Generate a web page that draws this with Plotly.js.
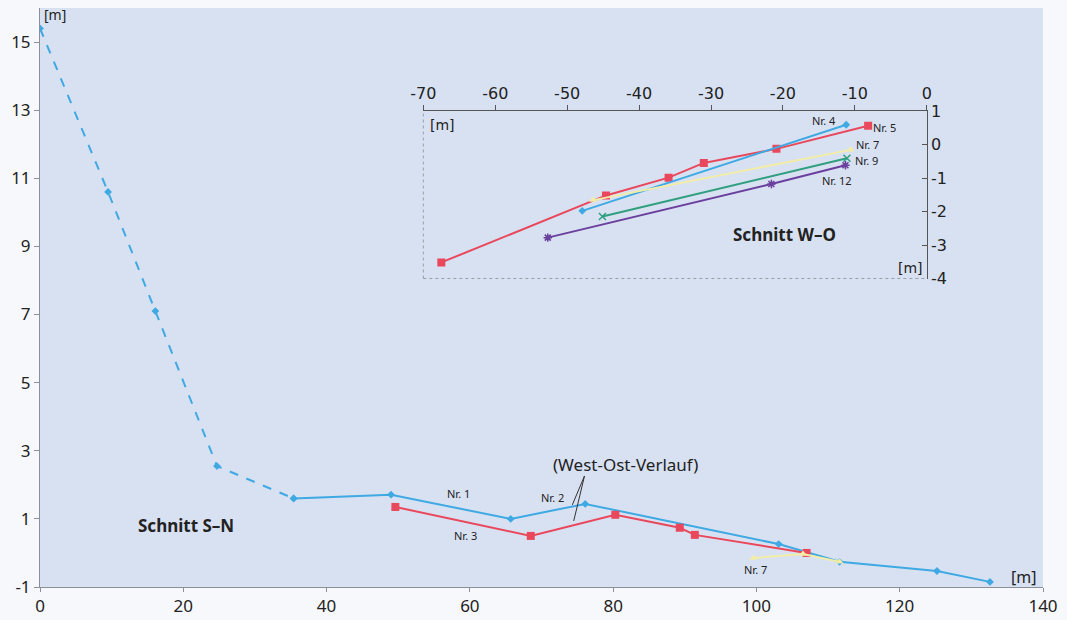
<!DOCTYPE html>
<html>
<head>
<meta charset="utf-8">
<script src="https://cdn.plot.ly/plotly-3.0.1.min.js"></script>
<style>
html,body{margin:0;padding:0;background:#f7f8fb;}
#chart{width:1067px;height:620px;}
</style>
</head>
<body>
<div id="chart"></div>
<script>
// ---- Main section (Schnitt S–N) ----
const snDashX = [0, 9.5, 16.1, 24.7, 35.4];
const snDashY = [15.4, 10.6, 7.1, 2.55, 1.6];
const nr1X = [35.4, 49.0, 65.7, 76.1, 103.1, 111.6, 125.2, 132.6];
const nr1Y = [1.6, 1.71, 1.0, 1.44, 0.26, -0.26, -0.53, -0.85];
const nr3X = [49.6, 68.5, 80.3, 89.3, 91.4, 107.0];
const nr3Y = [1.35, 0.5, 1.12, 0.74, 0.53, 0.0];
const nr7X = [99.6, 106.5, 111.6];
const nr7Y = [-0.15, -0.03, -0.26];
const mainXTicks = [0, 20, 40, 60, 80, 100, 120, 140];
const mainYTicks = [-1, 1, 3, 5, 7, 9, 11, 13, 15];

// ---- Inset (Schnitt W–O) ----
const wo4X = [-47.9, -11.2];
const wo4Y = [-1.98, 0.59];
const wo5X = [-67.5, -44.6, -35.9, -31.0, -20.9, -8.15];
const wo5Y = [-3.52, -1.52, -0.99, -0.55, -0.13, 0.56];
const wo7X = [-46.4, -10.6];
const wo7Y = [-1.66, -0.16];
const wo9X = [-45.1, -11.1];
const wo9Y = [-2.15, -0.41];
const wo12X = [-52.7, -21.6, -11.3];
const wo12Y = [-2.78, -1.18, -0.62];
const insetXTicks = [-70, -60, -50, -40, -30, -20, -10, 0];
const insetYTicks = [-4, -3, -2, -1, 0, 1];

const BLUE = '#3ea9e2', RED = '#e9485c', YEL = '#f2eda6', GRN = '#2f9f7f', PUR = '#6b3f9e';

const traces = [
  {x: snDashX, y: snDashY, mode: 'lines+markers', line: {color: BLUE, width: 2, dash: 'dash'},
   marker: {symbol: 'diamond', size: 6, color: BLUE}, xaxis: 'x', yaxis: 'y'},
  {x: nr1X, y: nr1Y, mode: 'lines+markers', line: {color: BLUE, width: 2},
   marker: {symbol: 'diamond', size: 6, color: BLUE}, xaxis: 'x', yaxis: 'y'},
  {x: nr3X, y: nr3Y, mode: 'lines+markers', line: {color: RED, width: 2},
   marker: {symbol: 'square', size: 8, color: RED}, xaxis: 'x', yaxis: 'y'},
  {x: nr7X, y: nr7Y, mode: 'lines+markers', line: {color: YEL, width: 2},
   marker: {symbol: 'triangle-up', size: 7, color: YEL}, xaxis: 'x', yaxis: 'y'},

  {x: wo5X, y: wo5Y, mode: 'lines+markers', line: {color: RED, width: 2},
   marker: {symbol: 'square', size: 8, color: RED}, xaxis: 'x2', yaxis: 'y2'},
  {x: wo4X, y: wo4Y, mode: 'lines+markers', line: {color: BLUE, width: 2},
   marker: {symbol: 'diamond', size: 6, color: BLUE}, xaxis: 'x2', yaxis: 'y2'},
  {x: wo7X, y: wo7Y, mode: 'lines+markers', line: {color: YEL, width: 2},
   marker: {symbol: 'triangle-up', size: 7, color: YEL}, xaxis: 'x2', yaxis: 'y2'},
  {x: wo9X, y: wo9Y, mode: 'lines+markers', line: {color: GRN, width: 2},
   marker: {symbol: 'x-thin-open', size: 7, color: GRN, line: {color: GRN, width: 1.5}}, xaxis: 'x2', yaxis: 'y2'},
  {x: wo12X, y: wo12Y, mode: 'lines+markers', line: {color: PUR, width: 2},
   marker: {symbol: 'asterisk-open', size: 7, color: PUR, line: {color: PUR, width: 1.5}}, xaxis: 'x2', yaxis: 'y2'}
];

const tickFontMain = {family: 'Noto Sans, sans-serif', size: 17, color: '#222'};
const tickFontInset = {family: 'DejaVu Sans, sans-serif', size: 16, color: '#222'};
const lab = {family: 'Noto Sans, sans-serif', size: 11, color: '#222'};
const boldLab = {family: 'Noto Sans, sans-serif', size: 17, color: '#222'};

const ann = [];
function A(text, x, y, xr, yr, font, extra) {
  ann.push(Object.assign({text: text, x: x, y: y, xref: xr, yref: yr, showarrow: false, font: font}, extra || {}));
}
A('Nr. 1', 58.4, 1.76, 'x', 'y', lab);
A('Nr. 2', 71.5, 1.62, 'x', 'y', lab);
A('Nr. 3', 59.4, 0.5, 'x', 'y', lab);
A('Nr. 7', 99.9, -0.5, 'x', 'y', lab);
A('(West-Ost-Verlauf)', 81.7, 2.6, 'x', 'y', {family: 'Noto Sans, sans-serif', size: 17, color: '#222'});
A('<b>Schnitt S–N</b>', 20.4, 0.82, 'x', 'y', boldLab);
A('[m]', 0.3, 15.8, 'x', 'y', {family: 'Noto Sans, sans-serif', size: 14, color: '#222'}, {xanchor: 'left'});
A('[m]', 137.3, -0.7, 'x', 'y', {family: 'Noto Sans, sans-serif', size: 16, color: '#222'});

A('Nr. 4', -14.3, 0.72, 'x2', 'y2', lab);
A('Nr. 5', -5.9, 0.50, 'x2', 'y2', lab);
A('Nr. 7', -8.3, 0.0, 'x2', 'y2', lab);
A('Nr. 9', -8.4, -0.48, 'x2', 'y2', lab);
A('Nr. 12', -12.5, -1.06, 'x2', 'y2', lab);
A('<b>Schnitt W–O</b>', -19.8, -2.70, 'x2', 'y2', boldLab);
A('[m]', -69.3, 0.58, 'x2', 'y2', {family: 'DejaVu Sans, sans-serif', size: 14, color: '#222'}, {xanchor: 'left'});
A('[m]', -2.3, -3.69, 'x2', 'y2', {family: 'DejaVu Sans, sans-serif', size: 14, color: '#222'});

const shapes = [
  // leader lines for (West-Ost-Verlauf)
  {type: 'line', xref: 'x', yref: 'y', x0: 76.0, y0: 2.26, x1: 74.3, y1: 1.41, line: {color: '#333', width: 1}},
  {type: 'line', xref: 'x', yref: 'y', x0: 76.0, y0: 2.26, x1: 74.5, y1: 0.94, line: {color: '#333', width: 1}},
  // inset left and bottom dotted borders
  {type: 'line', xref: 'x2 domain', yref: 'y2 domain', x0: 0, y0: 0, x1: 0, y1: 1, line: {color: '#9aa0aa', width: 1, dash: 'dot'}},
  {type: 'line', xref: 'x2 domain', yref: 'y2 domain', x0: 0, y0: 0, x1: 1, y1: 0, line: {color: '#9aa0aa', width: 1, dash: 'dot'}}
];

const layout = {
  width: 1067, height: 620,
  margin: {l: 40, r: 24, t: 8, b: 33},
  paper_bgcolor: '#f7f8fb',
  plot_bgcolor: '#d8e1f2',
  showlegend: false,
  xaxis: {
    range: [0, 140], tickvals: mainXTicks, ticktext: mainXTicks.map(String),
    showgrid: false, zeroline: false, showline: true, linecolor: '#8a8f99', linewidth: 1,
    ticks: 'outside', ticklen: 4, tickcolor: '#8a8f99', tickfont: tickFontMain, domain: [0, 1]
  },
  yaxis: {
    range: [-1, 16], tickvals: mainYTicks, ticktext: mainYTicks.map(String),
    showgrid: false, zeroline: false, showline: true, linecolor: '#8a8f99', linewidth: 1,
    ticks: 'outside', ticklen: 5, tickcolor: '#8a8f99', tickfont: tickFontMain, domain: [0, 1]
  },
  xaxis2: {
    domain: [0.3822, 0.8841], anchor: 'y2', side: 'top', range: [-70, 0],
    tickvals: insetXTicks, ticktext: insetXTicks.map(String),
    showgrid: false, zeroline: false, showline: true, linecolor: '#555', linewidth: 1,
    ticks: 'outside', ticklen: 5, tickcolor: '#555', tickfont: tickFontInset
  },
  yaxis2: {
    domain: [0.5328, 0.8221], anchor: 'x2', side: 'right', range: [-4, 1],
    tickvals: insetYTicks, ticktext: insetYTicks.map(String),
    showgrid: false, zeroline: false, showline: true, linecolor: '#555', linewidth: 1,
    ticks: 'inside', ticklen: 5, tickcolor: '#555', tickfont: tickFontInset
  },
  annotations: ann,
  shapes: shapes
};

Plotly.newPlot('chart', traces, layout, {displayModeBar: false, staticPlot: true});
</script>
</body>
</html>
